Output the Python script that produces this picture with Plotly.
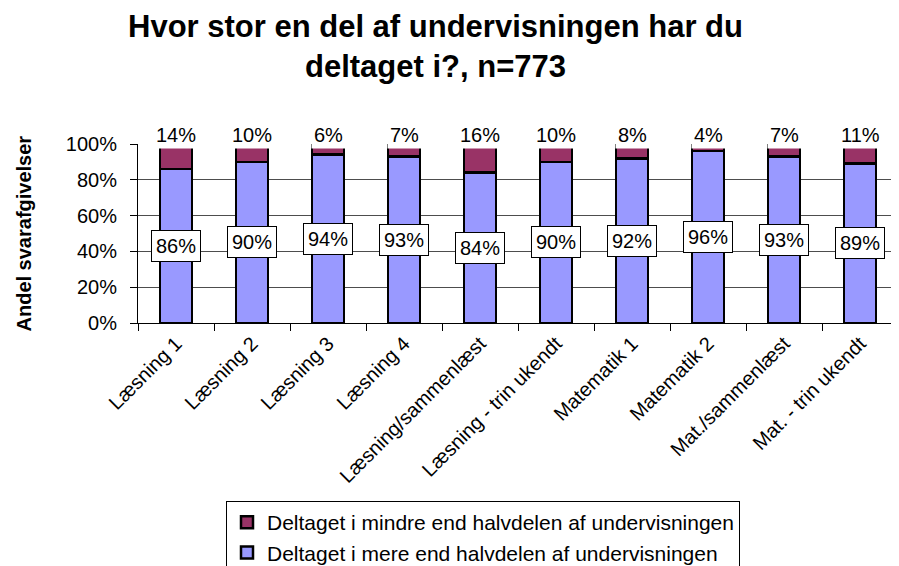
import plotly.graph_objects as go

categories = ["Læsning 1", "Læsning 2", "Læsning 3", "Læsning 4", "Læsning/sammenlæst",
              "Læsning - trin ukendt", "Matematik 1", "Matematik 2", "Mat./sammenlæst",
              "Mat. - trin ukendt"]
mere = [86, 90, 94, 93, 84, 90, 92, 96, 93, 89]
mindre = [14, 10, 6, 7, 16, 10, 8, 4, 7, 11]
series_names = ["Deltaget i mere end halvdelen af undervisningen",
                "Deltaget i mindre end halvdelen af undervisningen"]
y_ticks = [0, 20, 40, 60, 80, 100]

FONT = "Liberation Sans, Arial, sans-serif"
OFF = 8  # page body margin offsets the figure by 8px
W, H = 899 - OFF, 566 - OFF
L = 138 - OFF
T = 144 - OFF
R = W - (898 - OFF)
B = H - (323 - OFF)
PW, PH = W - L - R, H - T - B


def px_x(px):
    return (px - OFF - L) / PW


def px_y(py):
    return (H - B - (py - OFF)) / PH


fig = go.Figure()
fig.add_trace(go.Bar(x=categories, y=mere, name=series_names[0],
                     marker=dict(color="#9999FF", line=dict(color="black", width=2.5)),
                     width=0.42, hoverinfo="skip"))
fig.add_trace(go.Bar(x=categories, y=mindre, name=series_names[1],
                     marker=dict(color="#993366", line=dict(color="black", width=2.5)),
                     width=0.42, hoverinfo="skip"))

annotations = []
for c, v in zip(categories, mere):
    annotations.append(dict(x=c, y=v / 2, xref="x", yref="y", text=f"{v}%",
                            showarrow=False, bgcolor="white", bordercolor="black",
                            borderwidth=1, borderpad=4,
                            font=dict(family=FONT, size=20, color="black")))
for c, v, m in zip(categories, mindre, mere):
    annotations.append(dict(x=c, y=m + v, xref="x", yref="y", text=f"{v}%",
                            showarrow=False, bgcolor="white", borderpad=2,
                            yshift=9, yanchor="middle",
                            font=dict(family=FONT, size=20, color="black")))
annotations.append(dict(x=px_x(23), y=0.5, xref="paper", yref="paper",
                        text="<b>Andel svarafgivelser</b>", textangle=-90, showarrow=False,
                        xanchor="center", yanchor="middle",
                        font=dict(family=FONT, size=20, color="black")))
annotations.append(dict(x=px_x(435), y=px_y(46), xref="paper", yref="paper",
                        text="<b>Hvor stor en del af undervisningen har du<br>deltaget i?, n=773</b>",
                        showarrow=False, xanchor="center", yanchor="middle", borderpad=0,
                        font=dict(family=FONT, size=31, color="black")))

fig.update_layout(
    width=W, height=H, autosize=False,
    margin=dict(l=L, r=R, t=T, b=B, autoexpand=False),
    paper_bgcolor="white", plot_bgcolor="white",
    barmode="stack",
    font=dict(family=FONT, size=20, color="black"),
    xaxis=dict(type="category", tickson="boundaries", ticks="outside", ticklen=7,
               tickcolor="black", showline=True, linecolor="black", linewidth=1,
               tickangle=-45, tickfont=dict(family=FONT, size=20, color="black"),
               showgrid=False, zeroline=False, fixedrange=True, automargin=False),
    yaxis=dict(range=[0, 100], tickvals=y_ticks, ticktext=[f"{t}%" for t in y_ticks],
               ticks="outside", ticklen=7, tickcolor="black", showline=True,
               linecolor="black", linewidth=1, showgrid=True, gridcolor="#4d4d4d",
               gridwidth=1, zeroline=False, ticklabelstandoff=9, automargin=False,
               tickfont=dict(family=FONT, size=20, color="black"), fixedrange=True),
    legend=dict(traceorder="reversed", orientation="v",
                x=px_x(226), xanchor="left", xref="paper",
                y=px_y(501), yanchor="top", yref="paper",
                bordercolor="black", borderwidth=1, bgcolor="white",
                font=dict(family=FONT, size=21, color="black")),
    annotations=annotations,
    showlegend=True,
)

fig.write_html("out.html")
